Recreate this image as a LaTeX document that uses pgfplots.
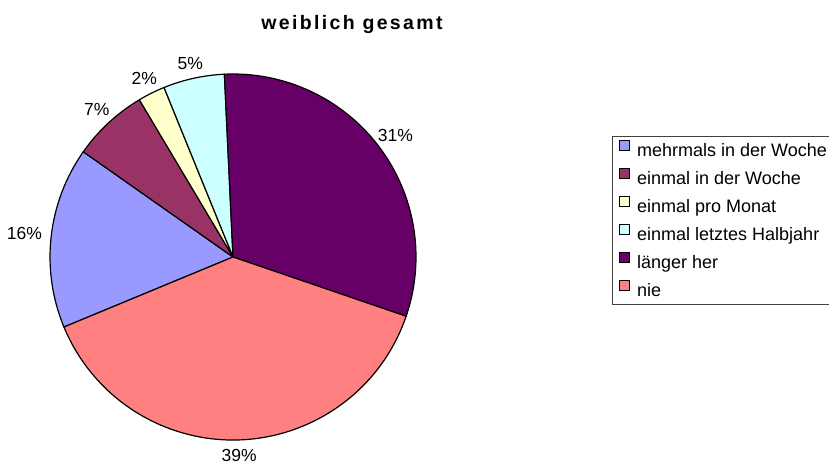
\documentclass[border=0pt]{standalone}
\usepackage{pgfplots}
\pgfplotsset{compat=1.18}
\usepackage{fontspec}
\setmainfont{Liberation Sans}
\newfontfamily\titlefont[LetterSpace=12]{Liberation Sans}
\usetikzlibrary{calc}

\definecolor{cMehr}{HTML}{9999FF}
\definecolor{cWoche}{HTML}{993366}
\definecolor{cMonat}{HTML}{FFFFCC}
\definecolor{cHalb}{HTML}{CCFFFF}
\definecolor{cLaenger}{HTML}{660066}
\definecolor{cNie}{HTML}{FF8080}

\newcommand\lblfont{\fontsize{17.5}{20}\selectfont}

\begin{document}
\begin{tikzpicture}
\clip (0,0) rectangle (829pt,470pt);
\begin{axis}[
  width=829pt, height=470pt, scale only axis,
  xmin=0, xmax=829, ymin=0, ymax=470,
  hide axis, clip=false,
  title={weiblich gesamt},
  title style={at={(0.4246,0.936)}, anchor=center,
    font=\titlefont\bfseries\fontsize{19.5}{22}\selectfont},
  legend style={at={(axis cs:612,334)}, anchor=north west,
    draw=black!75, line width=0.8pt, fill=white,
    font=\fontsize{18}{20}\selectfont,
    inner xsep=7pt, inner ysep=4pt, row sep=8pt,
    nodes={inner sep=0pt, text height=16.5pt, text depth=3.5pt},
    /tikz/every odd column/.append style={column sep=7pt}},
  legend cell align=left,
  legend image code/.code={\draw[#1, line width=0.8pt] (0pt,-0.5pt) rectangle (10pt,9.5pt);},
]
\addlegendimage{fill=cMehr, draw=black}
\addlegendentry{mehrmals in der Woche}
\addlegendimage{fill=cWoche, draw=black}
\addlegendentry{einmal in der Woche}
\addlegendimage{fill=cMonat, draw=black}
\addlegendentry{einmal pro Monat}
\addlegendimage{fill=cHalb, draw=black}
\addlegendentry{einmal letztes Halbjahr}
\addlegendimage{fill=cLaenger, draw=black}
\addlegendentry{länger her}
\addlegendimage{fill=cNie, draw=black}
\addlegendentry{nie}

% slices clockwise, share in percent / colour / label
\pgfplotsextra{
  \xdef\pieangle{202.5}
  \foreach \v/\c/\t in {16.0/cMehr/16, 6.7/cWoche/7, 2.4/cMonat/2,
                        5.4/cHalb/5, 31.0/cLaenger/31, 38.5/cNie/39}{
    \pgfmathsetmacro\sA{\pieangle}
    \pgfmathsetmacro\sB{\pieangle-3.6*\v}
    \pgfmathsetmacro\sM{(\sA+\sB)/2}
    \pgfmathsetmacro\sN{\sM+180}
    \filldraw[fill=\c, draw=black, line width=1.2pt, line join=round]
      (axis cs:233,213) -- ++(\sA:183pt)
      arc[start angle=\sA, end angle=\sB, radius=183pt] -- cycle;
    \node[anchor=\sN, inner sep=0pt, font=\lblfont]
      at ($(axis cs:233,213)+(\sM:192pt)$) {\t\%};
    \xdef\pieangle{\sB}
  }
}
\end{axis}
\end{tikzpicture}
\end{document}
